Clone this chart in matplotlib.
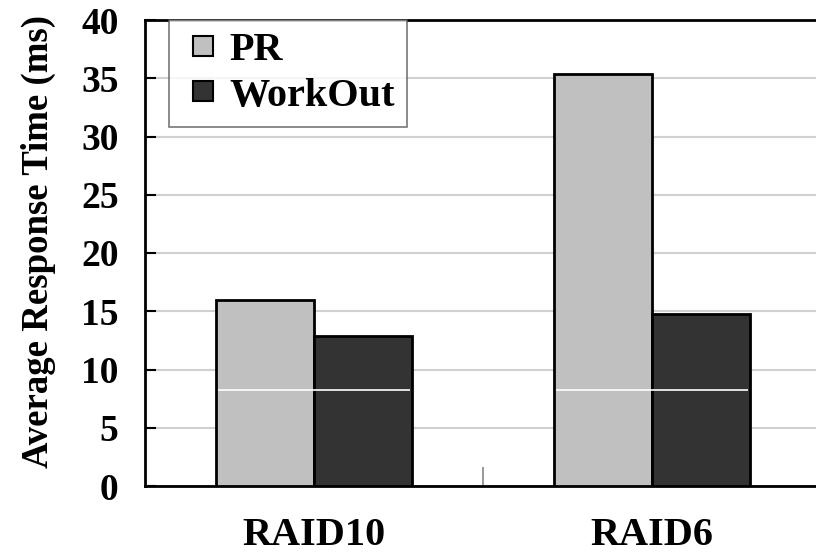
import numpy as np
import matplotlib
matplotlib.use("Agg")
import matplotlib.pyplot as plt
from matplotlib.lines import Line2D

categories = ["RAID10", "RAID6"]
series_names = ["PR", "WorkOut"]
pr_values = [16.0, 35.4]
workout_values = [12.9, 14.8]
yticks = [0, 5, 10, 15, 20, 25, 30, 35, 40]
colors = ['#c0c0c0', '#333333']

plt.rcParams['font.family'] = ['Liberation Serif', 'DejaVu Serif']
plt.rcParams['font.weight'] = 'bold'

fig = plt.figure(figsize=(8.16, 5.56), dpi=100)
ax = fig.add_axes([145/816, 1 - 486/556, 676/816, 466/556])

x = np.arange(len(categories))
w = 0.29
ax.bar(x - w/2, pr_values, w, color=colors[0], edgecolor='black', linewidth=2, zorder=3)
ax.bar(x + w/2, workout_values, w, color=colors[1], edgecolor='black', linewidth=2, zorder=3)

# thin white artifact line across the bars
for xi in x:
    ax.hlines(8.2, xi - w + 0.005, xi + w - 0.005, color='white', linewidth=1.2, zorder=4)

ax.set_xlim(-0.5, 1.5)
ax.set_ylim(0, 40)
ax.set_yticks(yticks)
ax.set_yticklabels([str(t) for t in yticks], fontsize=27, fontweight='bold')
ax.set_xticks(x)
ax.set_xticklabels(categories, fontsize=29, fontweight='bold')
ax.tick_params(axis='x', length=0, pad=22)
ax.tick_params(axis='y', direction='in', length=8, width=1.5, pad=19)
ax.set_xticks([0.5], minor=True)
ax.tick_params(axis='x', which='minor', direction='in', length=14, width=1.2, color='#888888')
ax.yaxis.grid(True, color='#d0d0d0', linewidth=1.5, zorder=0)
ax.set_axisbelow(True)
ax.set_ylabel("Average Response Time (ms)", fontsize=26.5, fontweight='bold')
ax.yaxis.set_label_coords(-0.132, 0.524)

for s in ['left', 'bottom', 'top']:
    ax.spines[s].set_linewidth(2)
ax.spines['right'].set_visible(False)

handles = [Line2D([], [], linestyle='none', marker='s', markersize=14, markerfacecolor=c,
                  markeredgecolor='black', markeredgewidth=1.5) for c in colors]
leg = ax.legend(handles, series_names, loc='upper left', bbox_to_anchor=(24/676, 1.0),
                prop={'size': 29, 'weight': 'bold'}, frameon=True, fancybox=False,
                edgecolor='#555555', handlelength=1.1, handletextpad=0.1,
                borderpad=0.3, labelspacing=0.2, borderaxespad=0)
leg.get_frame().set_linewidth(1.2)

fig.savefig("out.png", dpi=100)
